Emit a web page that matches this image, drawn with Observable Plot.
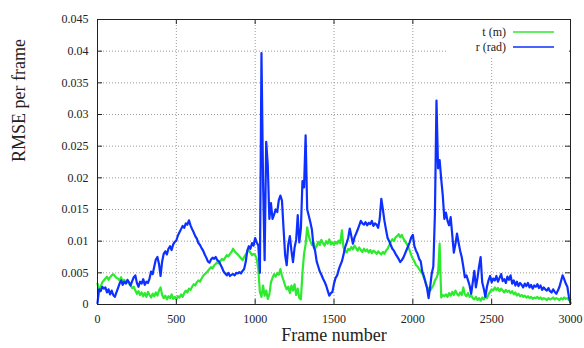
<!DOCTYPE html>
<html><head><meta charset="utf-8">
<script src="https://cdn.jsdelivr.net/npm/d3@7"></script>
<script src="https://cdn.jsdelivr.net/npm/@observablehq/plot@0.6"></script>
<style>
body{margin:0;background:#fff;}
#wrap{position:relative;width:584px;height:348px;}
#legend{position:absolute;left:0;top:0;pointer-events:none;}
svg text{font-family:"Liberation Serif", serif;}
</style></head><body><div id="wrap"></div>
<script>
// Tick values and labels
const xTicks = [0, 500, 1000, 1500, 2000, 2500, 3000];
const xLabels = ["0", "500", "1000", "1500", "2000", "2500", "3000"];
const yTicks = [0, 0.005, 0.01, 0.015, 0.02, 0.025, 0.03, 0.035, 0.04, 0.045];
const yLabels = ["0", "0.005", "0.01", "0.015", "0.02", "0.025", "0.03", "0.035", "0.04", "0.045"];
const xTitle = "Frame number";
const yTitle = "RMSE per frame";
const seriesNames = ["t (m)", "r (rad)"];
const seriesColors = ["#2eea2e", "#0d2fff"];

// Frames sampled every 10 frames, 0..3000
const frames = d3.range(0, 3001, 10);

// t (m) translation error
const tValues = [
0.0033,0.0022,0.0028,0.0035,0.0038,0.0041,0.0044,0.0039,0.0043,0.0046,
0.0048,0.0045,0.0042,0.0041,0.0038,0.0043,0.0036,0.0039,0.0034,0.0037,
0.0033,0.0030,0.0026,0.0028,0.0022,0.0017,0.0021,0.0015,0.0019,0.0013,
0.0018,0.0012,0.0020,0.0015,0.0011,0.0017,0.0013,0.0019,0.0014,0.0022,
0.0027,0.0015,0.0010,0.0014,0.0008,0.0013,0.0010,0.0016,0.0009,0.0012,
0.0008,0.0013,0.0011,0.0016,0.0012,0.0018,0.0022,0.0019,0.0025,0.0023,
0.0028,0.0032,0.0030,0.0035,0.0038,0.0036,0.0041,0.0045,0.0048,0.0050,
0.0053,0.0056,0.0059,0.0057,0.0062,0.0064,0.0067,0.0065,0.0069,0.0072,
0.0070,0.0074,0.0078,0.0076,0.0080,0.0083,0.0088,0.0084,0.0081,0.0079,
0.0076,0.0073,0.0070,0.0075,0.0079,0.0083,0.0086,0.0082,0.0078,0.0080,
0.0078,0.0072,0.0055,0.0020,0.0012,0.0030,0.0014,0.0022,0.0009,0.0016,
0.0035,0.0042,0.0048,0.0044,0.0050,0.0047,0.0056,0.0045,0.0038,0.0030,
0.0024,0.0028,0.0018,0.0030,0.0022,0.0032,0.0015,0.0025,0.0010,0.0008,
0.0050,0.0080,0.0095,0.0122,0.0108,0.0100,0.0094,0.0098,0.0088,0.0092,
0.0099,0.0094,0.0102,0.0097,0.0093,0.0100,0.0096,0.0103,0.0095,0.0098,
0.0094,0.0099,0.0096,0.0101,0.0097,0.0117,0.0090,0.0085,0.0082,0.0088,
0.0086,0.0091,0.0087,0.0093,0.0089,0.0085,0.0090,0.0086,0.0083,0.0088,
0.0084,0.0087,0.0082,0.0086,0.0081,0.0085,0.0083,0.0080,0.0084,0.0081,
0.0079,0.0083,0.0080,0.0085,0.0088,0.0093,0.0099,0.0103,0.0100,0.0106,
0.0108,0.0111,0.0106,0.0110,0.0104,0.0100,0.0096,0.0092,0.0085,0.0078,
0.0072,0.0068,0.0062,0.0060,0.0056,0.0052,0.0049,0.0042,0.0036,0.0028,
0.0025,0.0022,0.0026,0.0030,0.0038,0.0042,0.0049,0.0096,0.0011,0.0015,
0.0013,0.0016,0.0012,0.0018,0.0014,0.0020,0.0015,0.0022,0.0017,0.0014,
0.0019,0.0015,0.0027,0.0016,0.0013,0.0018,0.0012,0.0015,0.0010,0.0008,
0.0012,0.0007,0.0010,0.0006,0.0011,0.0008,0.0013,0.0010,0.0016,0.0020,
0.0024,0.0022,0.0027,0.0023,0.0026,0.0021,0.0025,0.0022,0.0019,0.0023,
0.0020,0.0022,0.0018,0.0021,0.0016,0.0019,0.0014,0.0017,0.0013,0.0015,
0.0012,0.0014,0.0011,0.0013,0.0010,0.0012,0.0009,0.0011,0.0010,0.0012,
0.0009,0.0011,0.0008,0.0010,0.0009,0.0007,0.0010,0.0008,0.0009,0.0011,
0.0008,0.0010,0.0009,0.0007,0.0010,0.0008,0.0011,0.0009,0.0010,0.0007,
0.0008];

// r (rad) rotation error
const rValues = [
0.0002,0.0024,0.0021,0.0028,0.0025,0.0027,0.0019,0.0024,0.0016,0.0022,
0.0015,0.0012,0.0019,0.0026,0.0033,0.0038,0.0031,0.0036,0.0033,0.0039,
0.0035,0.0030,0.0037,0.0043,0.0046,0.0034,0.0028,0.0036,0.0033,0.0040,
0.0031,0.0036,0.0034,0.0041,0.0052,0.0048,0.0060,0.0071,0.0075,0.0064,
0.0045,0.0068,0.0080,0.0084,0.0079,0.0088,0.0092,0.0086,0.0095,0.0099,
0.0101,0.0109,0.0114,0.0119,0.0124,0.0121,0.0128,0.0126,0.0133,0.0125,
0.0119,0.0114,0.0108,0.0104,0.0097,0.0094,0.0089,0.0085,0.0079,0.0074,
0.0068,0.0066,0.0071,0.0074,0.0072,0.0075,0.0070,0.0068,0.0063,0.0058,
0.0052,0.0049,0.0046,0.0050,0.0045,0.0047,0.0048,0.0046,0.0050,0.0049,
0.0051,0.0049,0.0053,0.0056,0.0067,0.0085,0.0092,0.0088,0.0097,0.0093,
0.0105,0.0098,0.0093,0.0050,0.0397,0.0195,0.0070,0.0257,0.0220,0.0135,
0.0160,0.0135,0.0142,0.0150,0.0146,0.0165,0.0172,0.0164,0.0120,0.0078,
0.0062,0.0095,0.0108,0.0085,0.0067,0.0090,0.0102,0.0141,0.0098,0.0120,
0.0195,0.0185,0.0267,0.0150,0.0140,0.0130,0.0118,0.0092,0.0085,0.0068,
0.0060,0.0052,0.0047,0.0041,0.0036,0.0030,0.0022,0.0014,0.0018,0.0020,
0.0033,0.0042,0.0046,0.0055,0.0062,0.0068,0.0078,0.0090,0.0097,0.0105,
0.0120,0.0108,0.0096,0.0106,0.0112,0.0118,0.0125,0.0132,0.0128,0.0126,
0.0130,0.0125,0.0129,0.0127,0.0132,0.0124,0.0128,0.0126,0.0121,0.0135,
0.0167,0.0150,0.0132,0.0118,0.0105,0.0100,0.0094,0.0088,0.0085,0.0080,
0.0076,0.0072,0.0067,0.0070,0.0074,0.0080,0.0086,0.0092,0.0098,0.0106,
0.0110,0.0092,0.0085,0.0080,0.0072,0.0068,0.0052,0.0045,0.0035,0.0026,
0.0010,0.0028,0.0049,0.0060,0.0143,0.0322,0.0215,0.0228,0.0198,0.0172,
0.0135,0.0145,0.0132,0.0125,0.0138,0.0110,0.0082,0.0095,0.0112,0.0098,
0.0085,0.0075,0.0060,0.0043,0.0046,0.0038,0.0030,0.0017,0.0035,0.0053,
0.0027,0.0042,0.0060,0.0075,0.0035,0.0025,0.0012,0.0028,0.0038,0.0045,
0.0035,0.0041,0.0038,0.0045,0.0036,0.0042,0.0048,0.0037,0.0040,0.0034,
0.0044,0.0039,0.0046,0.0033,0.0038,0.0030,0.0036,0.0029,0.0034,0.0031,
0.0027,0.0033,0.0029,0.0034,0.0027,0.0031,0.0025,0.0030,0.0028,0.0032,
0.0026,0.0030,0.0023,0.0027,0.0024,0.0022,0.0026,0.0021,0.0019,0.0024,
0.0020,0.0017,0.0022,0.0028,0.0037,0.0046,0.0040,0.0033,0.0028,0.0012,
0.0002];

const tData = frames.map((f, i) => ({frame: f, value: tValues[i]})).filter(d => d.value != null);
const rData = frames.map((f, i) => ({frame: f, value: rValues[i]})).filter(d => d.value != null);
const xLabelMap = new Map(xTicks.map((v, i) => [v, xLabels[i]]));
const yLabelMap = new Map(yTicks.map((v, i) => [v, yLabels[i]]));

const W = 584, H = 348, mL = 97, mR = 14, mT = 19, mB = 44;
const plotW = W - mL - mR, plotH = H - mT - mB;
const tickLen = 5;
const ink = "#222";
const serif = "Liberation Serif";
const gridStyle = {stroke: "#9a9a9a", strokeOpacity: 1, strokeDasharray: "1,2", strokeWidth: 1};

const chart = Plot.plot({
  width: W, height: H,
  marginLeft: mL, marginRight: mR, marginTop: mT, marginBottom: mB,
  style: {fontFamily: serif, fontSize: "12px", background: "#fff", color: ink},
  x: {domain: [0, 3000]},
  y: {domain: [0, 0.045]},
  marks: [
    Plot.gridX(xTicks, gridStyle),
    Plot.gridY(yTicks, gridStyle),
    Plot.line(tData, {x: "frame", y: "value", stroke: seriesColors[0], strokeWidth: 2.2}),
    Plot.line(rData, {x: "frame", y: "value", stroke: seriesColors[1], strokeWidth: 2.2}),
    Plot.frame({stroke: ink}),
    Plot.tickX(xTicks, {x: d => d, insetTop: plotH - tickLen, stroke: ink}),
    Plot.tickX(xTicks, {x: d => d, insetBottom: plotH - tickLen, stroke: ink}),
    Plot.tickY(yTicks, {y: d => d, insetRight: plotW - tickLen, stroke: ink}),
    Plot.tickY(yTicks, {y: d => d, insetLeft: plotW - tickLen, stroke: ink}),
    Plot.axisX(xTicks, {tickSize: 0, tickPadding: 10, label: null, fontSize: 12, fontFamily: serif, tickFormat: d => xLabelMap.get(d)}),
    Plot.axisY(yTicks, {tickSize: 0, tickPadding: 9, label: null, fontSize: 12, fontFamily: serif, tickFormat: d => yLabelMap.get(d)}),
    Plot.text([xTitle], {text: d => d, frameAnchor: "bottom", dy: 36, fontSize: 18, fontFamily: serif, fill: ink}),
    Plot.text([yTitle], {text: d => d, frameAnchor: "left", dx: -78, rotate: -90, fontSize: 18, fontFamily: serif, fill: ink})
  ]
});
const wrap = document.getElementById("wrap");
wrap.appendChild(chart);

// Legend (top-right, inside the frame, with white background)
const leg = d3.select(wrap).append("svg").attr("id", "legend")
  .attr("width", W).attr("height", H);
leg.append("rect").attr("x", 447).attr("y", mT + 1).attr("width", W - mR - 448).attr("height", 37).attr("fill", "#fff");
seriesNames.forEach((name, i) => {
  const y = 32 + i * 15;
  leg.append("text").attr("x", 506).attr("y", y).attr("dy", "0.35em").attr("text-anchor", "end")
    .attr("font-family", serif).attr("font-size", 12).attr("fill", ink).text(name);
  leg.append("line").attr("x1", 513).attr("x2", 554).attr("y1", y).attr("y2", y).attr("stroke", seriesColors[i]).attr("stroke-width", 1.4);
});
</script>
</body></html>
